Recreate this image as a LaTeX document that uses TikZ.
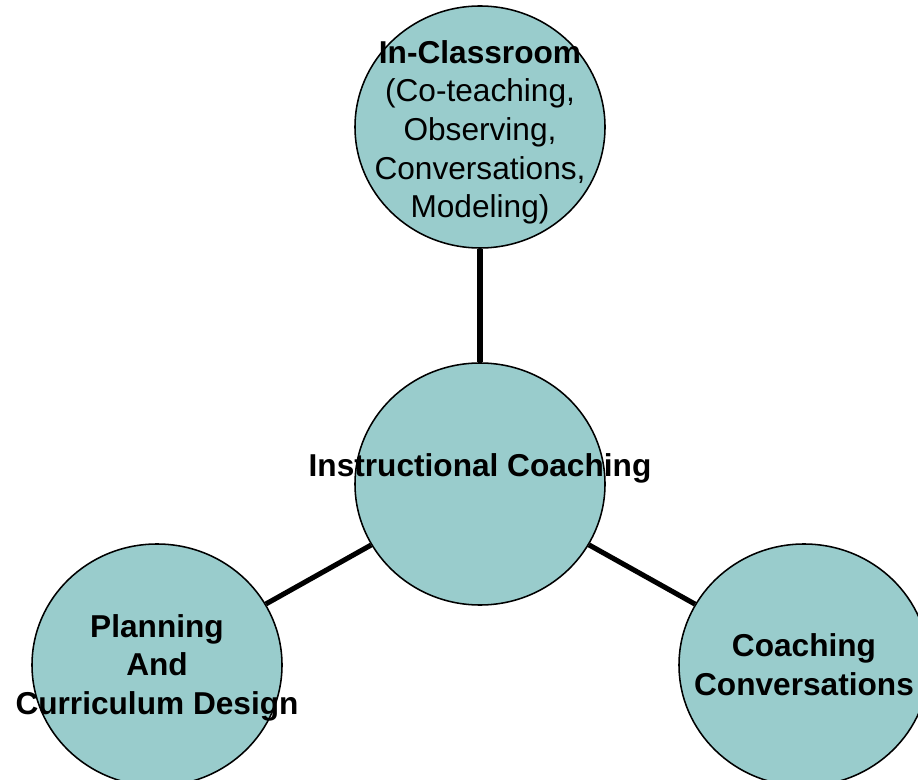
\documentclass[tikz,border=0pt]{standalone}
\usepackage{fontspec}
\setmainfont{Liberation Sans}
\usetikzlibrary{shapes.geometric}
\definecolor{bubble}{RGB}{153,204,204}

\begin{document}
\begin{tikzpicture}[
	bubble/.style={ellipse,draw,line width=1.1pt,fill=bubble,minimum width=6.25cm,minimum height=6.05cm,inner sep=0pt},
	tag/.style={align=center,inner sep=0pt,font=\fontsize{22.5}{27.5}\selectfont},
	spoke/.style={line width=3.6pt}]
			\useasboundingbox (0,0) rectangle (22.95,19.475);
			\node[bubble,label={[tag,yshift=-0.13cm]center:\textbf{In-Classroom}\\(Co-teaching,\\Observing,\\Conversations,\\Modeling)}] (class) at (12,16.3) {};
			\node[bubble,label={[tag,yshift=0.38cm]center:\textbf{Instructional Coaching}}] (coach) at (12,7.375) {};
			\node[bubble,label={[tag,yshift=-0.07cm,font=\fontsize{22.5}{27.5}\selectfont\bfseries]center:Planning\\And\\Curriculum Design}] (plan) at (3.925,2.85) {};
			\node[bubble,label={[tag,font=\fontsize{22.5}{27.5}\selectfont\bfseries]center:Coaching\\Conversations}] (talk) at (20.1,2.85) {};
			\draw[spoke] (coach)--(class);
			\draw[spoke] (coach)--(plan);
			\draw[spoke] (coach)--(talk);
		\end{tikzpicture}
\end{document}
